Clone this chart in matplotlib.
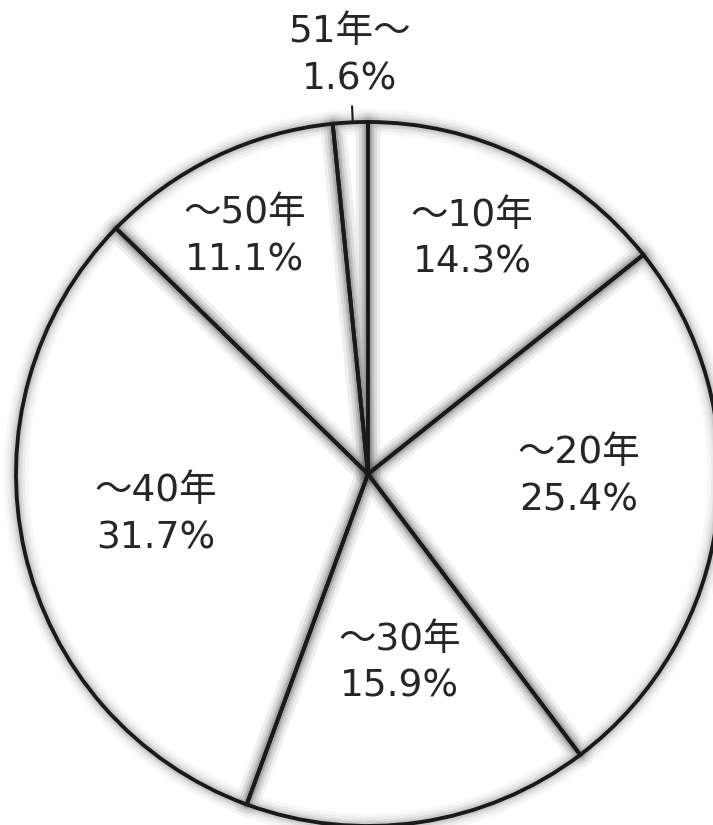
import numpy as np
import matplotlib
matplotlib.use("Agg")
import matplotlib.pyplot as plt

plt.rcParams['font.family'] = ['DejaVu Sans', 'Noto Sans CJK JP']

# データ
labels = ["～10年", "～20年", "～30年", "～40年", "～50年", "51年～"]
shares = [14.3, 25.4, 15.9, 31.7, 11.1, 1.6]

# ラベル位置 (半径に対する比率, 角度のずれ)
label_r = [0.73, 0.60, 0.545, 0.615, 0.76, 1.19]
label_shift = [1.8, 6.4, 1.1, -1.9, 1.7, -0.4]

W, H = 713, 825
cx, cy, R = 368, 351, 352

fig = plt.figure(figsize=(W / 100, H / 100), dpi=100)
ax = fig.add_axes([0, 0, 1, 1])

# 白い塗り
ax.pie(shares, startangle=90, counterclock=False, center=(cx, cy), radius=R,
       wedgeprops=dict(facecolor="white", edgecolor="none", zorder=1))

# ぼかした影
for lw, a in [(18, 0.04), (13, 0.06), (9, 0.08), (6, 0.12)]:
    ax.pie(shares, startangle=90, counterclock=False, center=(cx, cy), radius=R,
           wedgeprops=dict(facecolor="none", edgecolor="#444444", linewidth=lw,
                           alpha=a, zorder=2, joinstyle="round"))

# 黒い枠線
wedges, _ = ax.pie(shares, startangle=90, counterclock=False, center=(cx, cy), radius=R,
                   wedgeprops=dict(facecolor="none", edgecolor="#1a1a1a", linewidth=2.8,
                                   zorder=3, joinstyle="miter"))

for w, lab, val, fr, sh in zip(wedges, labels, shares, label_r, label_shift):
    ang = np.deg2rad((w.theta1 + w.theta2) / 2 + sh)
    x = cx + fr * R * np.cos(ang)
    y = cy + fr * R * np.sin(ang)
    ax.text(x, y, f"{lab}\n{val}%", ha="center", va="center", fontsize=27,
            color="#262626", linespacing=1.4, zorder=5)
    if fr > 1:
        x0, y0 = cx + R * np.cos(ang), cy + R * np.sin(ang)
        x1, y1 = cx + 1.045 * R * np.cos(ang), cy + 1.045 * R * np.sin(ang)
        ax.plot([x0, x1], [y0, y1], color="#1a1a1a", lw=1.5, zorder=4)

ax.set_xlim(0, W)
ax.set_ylim(0, H)
ax.set_aspect("equal")
ax.axis("off")

fig.savefig("out.png", dpi=100, facecolor="white")
